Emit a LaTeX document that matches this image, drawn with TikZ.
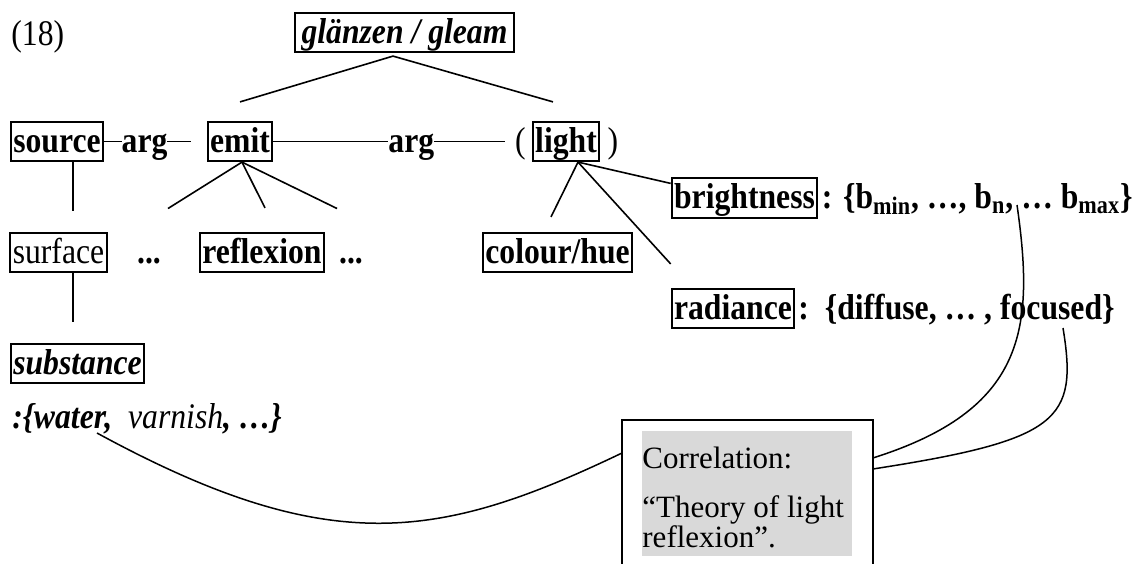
\documentclass[tikz,border=0pt]{standalone}
\usepackage{fontspec}
\setmainfont{Liberation Serif}[FakeStretch=0.88]
\newfontfamily\corrfont{Liberation Serif}
\usepackage{xcolor}
\usepackage{tikz}
\usetikzlibrary{calc}
\definecolor{corrgrey}{HTML}{D9D9D9}
\newcommand{\figfont}{\fontsize{18}{21}\selectfont}
\newcommand{\corrline}[1]{\hbox to 105pt{#1\hfil}}
\tikzset{
  cword/.style={inner xsep=0pt, inner ysep=1.5pt, text height=13.6pt, text depth=3pt, font=\figfont\bfseries},
  cplain/.style={cword, font=\figfont},
  cbox/.style={cword, draw, line width=1pt, inner xsep=1.2pt},
  clbl/.style={cword, fill=white},
  cline/.style={line width=0.8pt},
  clink/.style={line width=0.75pt},
  ccorr/.style={fill=corrgrey, inner sep=0pt, font=\corrfont\fontsize{15.5}{18}\selectfont},
}

\begin{document}
\begin{tikzpicture}[x=0.5pt, y=-0.5pt]
    \useasboundingbox (0,0) rectangle (1138,563);
    % nodes
    \node[cplain, anchor=west] (num) at (11,35) {(18)};
    \node[cbox, font=\figfont\bfseries\itshape, minimum width=109.5pt] (gleam) at (404.5,32.5) {glänzen / gleam};
    \node[cbox, minimum width=45pt] (source) at (57,141.5) {source};
    \node[cbox, minimum width=31pt] (emit) at (240,141.5) {emit};
    \node[cplain] (lpar) at (520.5,141.5) {(};
    \node[cbox, minimum width=32pt] (light) at (566,141.5) {light};
    \node[cplain] (rpar) at (613,141.5) {)};
    \node[cbox, font=\figfont, minimum width=46.5pt] (surface) at (58.5,252.5) {surface};
    \node[cword] (dots1) at (149,252.5) {...};
    \node[cbox, minimum width=61pt] (reflexion) at (262,252.5) {reflexion};
    \node[cword] (dots2) at (351,252.5) {...};
    \node[cbox, minimum width=73.5pt] (colhue) at (557.5,252.5) {colour/hue};
    \node[cbox, minimum width=71.5pt] (brightness) at (744.5,198) {brightness};
    \node[cword, anchor=east] (bvals) at (1133,198) {: \{b\textsubscript{min}, …, b\textsubscript{n}, … b\textsubscript{max}\}};
    \node[cbox, minimum width=60pt] (radiance) at (733,308.5) {radiance};
    \node[cword, anchor=west] (rvals) at (798,308.5) {:\ \ \{diffuse, … , focused\}};
    \node[cbox, font=\figfont\bfseries\itshape, minimum width=65.5pt] (substance) at (77.5,363.5) {substance};
    \node[inner sep=0pt, anchor=base west, font=\figfont\bfseries\itshape] (water) at (12,428) {:\{water,\ \ {\mdseries varnish}, …\}};
    \node[minimum width=125pt, minimum height=71.5pt, inner sep=0pt, anchor=north west] (frame) at (622,420) {};
    \node[ccorr, anchor=north west] (corr) at (642,431) {\vbox{\baselineskip=0pt \lineskiplimit=-\maxdimen \lineskip=0pt
      \corrline{\rule{0pt}{18.5pt}Correlation:}\vskip24.5pt
      \corrline{“Theory of light}\vskip15pt
      \corrline{reflexion”.\rule[-4.5pt]{0pt}{0pt}}}};
    % tree lines
    \draw[cline] ([xshift=-5.75pt,yshift=-1.5pt]gleam.south) -- ([yshift=9.5pt]emit.north);
    \draw[cline] ([xshift=-5.75pt,yshift=-1.5pt]gleam.south) -- ([xshift=-6.5pt,yshift=9.5pt]light.north);
    \draw[cline] (source.east) -- node[clbl, pos=.467] {arg} ([xshift=-8pt]emit.west);
    \draw[cline] (emit.east) -- node[clbl, pos=.596] {arg} ([xshift=-5pt]lpar.west);
    \draw[cline] ([xshift=8pt]source.south) -- ([xshift=7.25pt,yshift=10.5pt]surface.north);
    \draw[cline] ([xshift=7.25pt]surface.south) -- ([xshift=-2.25pt,yshift=10.5pt]substance.north);
    \draw[cline] ([xshift=1pt]emit.south) -- ([xshift=9.5pt,yshift=12pt]dots1.north);
    \draw[cline] ([xshift=1pt]emit.south) -- ([xshift=1.5pt,yshift=12pt]reflexion.north);
    \draw[cline] ([xshift=1pt]emit.south) -- ([xshift=-7pt,yshift=12pt]dots2.north);
    \draw[cline] ([xshift=6pt]light.south) -- ([xshift=-3.25pt,yshift=7.5pt]colhue.north);
    \draw[cline] ([xshift=6pt]light.south) -- ([yshift=12pt]radiance.north west);
    \draw[cline] ([xshift=6pt]light.south) -- ([yshift=-3pt]brightness.north west);
    % correlation box and links
    \draw[clink] (frame.south west) |- (frame.north east) -- (frame.south east);
    \draw[clink] ([xshift=42.5pt,yshift=-2.5pt]water.base west) .. controls (330,560) and (440,540) .. ([yshift=-16.5pt]frame.north west);
    \draw[clink] ([xshift=-58pt,yshift=-3.5pt]bvals.east) .. controls (1035,330) and (1025,410) .. ([yshift=-19pt]frame.north east);
    \draw[clink] ([xshift=132.5pt,yshift=-9.75pt]rvals.west) .. controls (1078,420) and (1060,440) .. ([yshift=-24.5pt]frame.north east);
  \end{tikzpicture}
\end{document}
